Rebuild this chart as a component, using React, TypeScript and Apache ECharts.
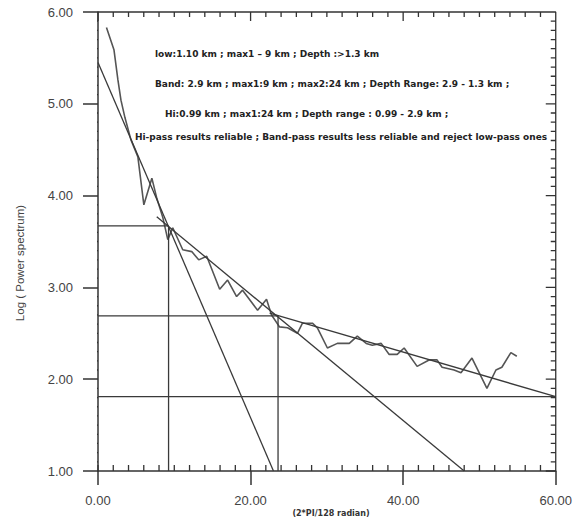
import React, { useEffect, useRef } from "react";
import * as echarts from "echarts";

// Observed log power spectrum (x: wavenumber, y: log power)
const spectrumX = [1.11, 2.09, 2.61, 3.01, 3.53, 4.31, 5.23, 6.01, 7.06, 7.71, 8.5, 9.15, 9.8, 11.11, 12.29, 13.2, 14.25, 15.95, 16.99, 18.17, 18.95, 20.92, 22.09, 22.75, 23.79, 24.84, 26.14, 26.8, 28.1, 28.76, 30.07, 31.37, 32.94, 33.99, 35.16, 35.95, 37.12, 38.17, 39.22, 40.13, 41.83, 43.4, 44.44, 45.1, 46.67, 47.58, 49.02, 50.98, 52.16, 52.94, 54.12, 54.9];
const spectrumY = [5.83, 5.59, 5.26, 5.04, 4.85, 4.61, 4.42, 3.9, 4.19, 3.97, 3.76, 3.52, 3.65, 3.41, 3.39, 3.3, 3.34, 2.98, 3.08, 2.9, 2.97, 2.75, 2.87, 2.7, 2.57, 2.56, 2.5, 2.61, 2.61, 2.56, 2.34, 2.39, 2.39, 2.47, 2.39, 2.37, 2.39, 2.27, 2.27, 2.34, 2.14, 2.21, 2.21, 2.13, 2.1, 2.07, 2.23, 1.9, 2.1, 2.13, 2.29, 2.25];

// Fitted straight segments [x0, y0, x1, y1]
const fitLow = [0, 5.45, 23.0, 1.0];
const fitBand = [7.7, 3.77, 48.0, 1.0];
const fitHi = [22.5, 2.72, 60.0, 1.81];

// Break points (x where vertical guide drops, y of horizontal guide)
const breakX = [9.25, 23.6];
const breakY = [3.67, 2.69];
const floorLevel = 1.81;

const yTicks = [1, 2, 3, 4, 5, 6];
const xTicks = [0, 20, 40, 60];
const xMinorStep = 2;
const yMinorStep = 0.1;

const notes = [
  "low:1.10 km ; max1 – 9 km ; Depth :>1.3 km",
  "Band: 2.9 km ; max1:9 km ; max2:24 km ; Depth Range: 2.9 - 1.3 km ;",
  "Hi:0.99 km ; max1:24 km ; Depth range : 0.99 - 2.9 km ;",
  "Hi-pass results reliable ; Band-pass results less reliable and reject low-pass ones",
];

const LINE = "#3a3a3a";
const GRID = { left: 98, right: 18, top: 12, bottom: 52 };
const W = 575;
const H = 523;

export default function App() {
  const ref = useRef<HTMLDivElement>(null);
  useEffect(() => {
    if (!ref.current) return;
    const chart = echarts.init(ref.current, null, { renderer: "svg" });
    const seg = (s: number[]) => [
      [s[0], s[1]],
      [s[2], s[3]],
    ];
    const lineSeries = (data: any[], color = LINE, width = 1.3, clip = true) => ({
      type: "line",
      data,
      symbol: "none",
      silent: true,
      clip,
      connectNulls: false,
      lineStyle: { color, width },
    });
    const xMin = xTicks[0];
    const xMax = xTicks[xTicks.length - 1];
    const yMin = yTicks[0];
    const yMax = yTicks[yTicks.length - 1];
    const plotW = W - GRID.left - GRID.right;
    const plotH = H - GRID.top - GRID.bottom;
    const dx = (xMax - xMin) / plotW;
    const dy = (yMax - yMin) / plotH;

    // frame (top, right) plus tick marks, one broken polyline
    const frameData: any[] = [[xMin, yMax], [xMax, yMax], [xMax, yMin], "-"];
    const nx = Math.round((xMax - xMin) / xMinorStep);
    for (let i = 0; i <= nx; i++) {
      const v = xMin + i * xMinorStep;
      const major = xTicks.includes(v);
      frameData.push([v, yMin], [v, yMin + 6 * dy], "-");
      frameData.push([v, yMax], [v, yMax - (major ? 9 : 5) * dy], "-");
    }
    const ny = Math.round((yMax - yMin) / yMinorStep);
    for (let i = 0; i <= ny; i++) {
      const v = +(yMin + i * yMinorStep).toFixed(3);
      const major = i % 10 === 0;
      if (!major) frameData.push([xMin, v], [xMin - 6 * dx, v], "-");
      frameData.push([xMax, v], [xMax - (major ? 10 : 5) * dx, v], "-");
    }

    const labelStyle = { color: "#444", fontFamily: "Liberation Sans, Arial", fontSize: 13 };
    chart.setOption({
      animation: false,
      grid: { ...GRID, containLabel: false },
      xAxis: {
        type: "value", min: xMin, max: xMax, interval: 20,
        axisLine: { show: true, onZero: false, lineStyle: { color: "#333", width: 1.5 } },
        splitLine: { show: false },
        axisTick: { show: true, inside: false, length: 14, lineStyle: { color: "#333", width: 1.5 } },
        axisLabel: { ...labelStyle, margin: 23, formatter: (v: number) => v.toFixed(2) },
      },
      yAxis: {
        type: "value", min: yMin, max: yMax, interval: 1,
        axisLine: { show: true, onZero: false, lineStyle: { color: "#333", width: 1.5 } },
        splitLine: { show: false },
        axisTick: { show: true, inside: false, length: 15, lineStyle: { color: "#333", width: 1.5 } },
        axisLabel: { ...labelStyle, margin: 25, formatter: (v: number) => v.toFixed(2) },
      },
      series: [
        lineSeries(frameData, "#333", 1.3, false),
        lineSeries(spectrumX.map((x, i) => [x, spectrumY[i]]), "#555", 1.6),
        lineSeries(seg(fitLow)),
        lineSeries(seg(fitBand)),
        lineSeries(seg(fitHi)),
        lineSeries([[xMin, breakY[0]], [breakX[0], breakY[0]], [breakX[0], yMin]]),
        lineSeries([[xMin, breakY[1]], [breakX[1], breakY[1]], [breakX[1], yMin]]),
        lineSeries([[xMin, floorLevel], [xMax, floorLevel]]),
      ],
      graphic: [
        ...notes.map((t, i) => ({
          type: "text",
          x: [155, 155, 165, 135][i],
          y: [54, 84, 114, 137][i],
          style: {
            text: t,
            fill: "#222",
            font: "bold 9px 'DejaVu Sans'",
            verticalAlign: "middle",
            align: "left",
          },
        })),
        {
          type: "text",
          x: 20,
          y: 263,
          rotation: Math.PI / 2,
          style: {
            text: "Log ( Power spectrum)",
            fill: "#444",
            font: "11.5px 'Liberation Sans'",
            align: "center",
            verticalAlign: "middle",
          },
        },
        {
          type: "text",
          x: 331,
          y: 513,
          style: {
            text: "(2*PI/128 radian)",
            fill: "#333",
            font: "bold 8px 'DejaVu Sans'",
            align: "center",
            verticalAlign: "middle",
          },
        },
      ],
    });
    return () => chart.dispose();
  }, []);
  return (
    <div
      ref={ref}
      style={{ position: "fixed", left: 0, top: 0, width: W, height: H, background: "#fff" }}
    />
  );
}
